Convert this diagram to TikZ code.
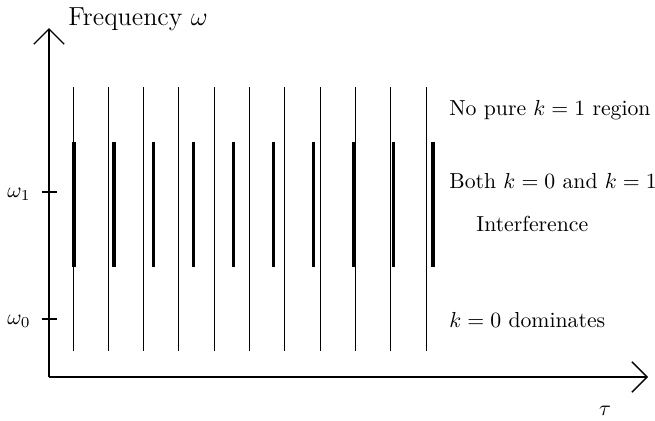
\documentclass[tikz,border=0pt]{standalone}
\usetikzlibrary{arrows.meta}
\begin{document}
\begin{tikzpicture}[x=0.46pt,y=-0.46pt,
  axis/.style={semithick,-{Straight Barb[length=7pt,width=14pt]}},
  thinline/.style={line width=0.45pt},
  thickline/.style={line width=1.5pt},
  lbl/.style={inner sep=0pt,anchor=base west}]
\useasboundingbox (0,0) rectangle (655,421);
\coordinate (O) at (49,377);
\coordinate (Ytip) at (49,28);
\coordinate (Xtip) at (648,377);
\draw[axis] (O) -- (Ytip);
\draw[axis] (O) -- (Xtip);
% ticks
\coordinate (t1) at (49,192);
\coordinate (t0) at (49,319);
\draw[semithick] ([xshift=-7.5*0.46pt]t1) -- ([xshift=7.5*0.46pt]t1);
\draw[semithick] ([xshift=-7.5*0.46pt]t0) -- ([xshift=7.5*0.46pt]t0);
\node[inner sep=0pt,anchor=east] (w1) at (31,194) {$\omega_1$};
\node[inner sep=0pt,anchor=east] (w0) at (31,321) {$\omega_0$};
% thin lines
\foreach \i in {0,...,10}{
  \draw[thinline] ({73+35.3*\i},87) -- ({73+35.3*\i},351);
}
% thick lines
\foreach \i in {0,...,9}{
  \draw[thickline] ({74+39.9*\i},142) -- ({74+39.9*\i},267);
}
% labels
\node[lbl] (freq) at (68,25) {\large Frequency $\omega$};
\node[lbl] (nopure) at (449,115) {No pure $k=1$ region};
\node[lbl] (both) at (449,188) {Both $k=0$ and $k=1$};
\node[lbl] (interf) at (476,231) {Interference};
\node[lbl] (dom) at (449,327) {$k=0$ dominates};
\node (tau) at (605,411) {$\tau$};
\end{tikzpicture}
\end{document}
